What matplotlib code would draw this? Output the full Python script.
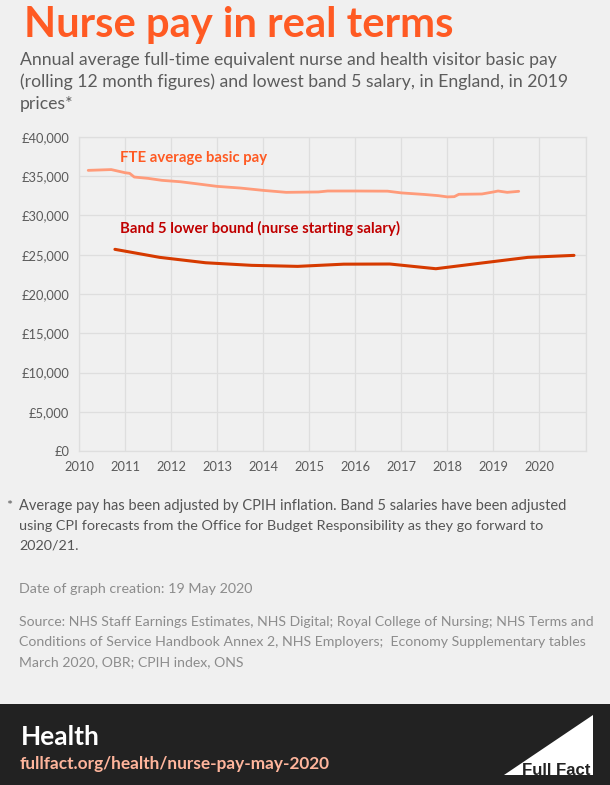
import matplotlib
matplotlib.use('Agg')
import matplotlib.pyplot as plt
from matplotlib.patches import Rectangle, Polygon

# --- Data ---
fte_years = [2010.2, 2010.7, 2011.0, 2011.1, 2011.2, 2011.5, 2011.8, 2012.2, 2012.6, 2013.0,
             2013.5, 2014.0, 2014.5, 2015.2, 2015.4, 2016.0, 2016.7, 2017.0, 2017.5, 2017.8,
             2018.0, 2018.15, 2018.25, 2018.75, 2019.0, 2019.1, 2019.3, 2019.55]
fte_pay = [35750, 35850, 35450, 35370, 34900, 34730, 34480, 34300, 34010, 33710,
           33500, 33200, 32950, 33000, 33120, 33120, 33100, 32880, 32680, 32530,
           32370, 32400, 32700, 32740, 33000, 33120, 32950, 33080]

band5_years = [2010.78, 2011.75, 2012.75, 2013.75, 2014.75, 2015.75, 2016.75, 2017.75, 2018.75, 2019.75, 2020.75]
band5_pay = [25690, 24670, 23980, 23650, 23520, 23800, 23820, 23220, 23950, 24670, 24920]

year_ticks = list(range(2010, 2021))
pay_ticks = list(range(0, 45000, 5000))

W, H = 610, 785
BG = '#f0f0f0'
plt.rcParams['font.family'] = ['Lato', 'DejaVu Sans']

fig = plt.figure(figsize=(W / 100, H / 100), dpi=100, facecolor=BG)

def px_text(x, y, s, **kw):
    # x, y in image pixels, y measured from the top
    fig.text(x / W, 1 - y / H, s, va='baseline', **kw)

# --- Chart ---
ax = fig.add_axes([79 / W, 1 - 451 / H, (585.5 - 79) / W, (451 - 137) / H], facecolor=BG)
ax.set_xlim(2010, 2021)
ax.set_ylim(0, 40000)
ax.set_xticks(year_ticks + [2021])
ax.set_xticklabels([str(y) for y in year_ticks] + [''])
ax.set_yticks(pay_ticks)
ax.set_yticklabels(['£{:,}'.format(v) for v in pay_ticks])
ax.grid(True, color='#dedede', linewidth=0.9)
ax.set_axisbelow(True)
for s in ax.spines.values():
    s.set_color('#dedede')
    s.set_linewidth(0.9)
ax.tick_params(length=0, labelsize=9.3, labelcolor='#5a5a5a', pad=7)

ax.plot(fte_years, fte_pay, color='#ff9b7a', linewidth=2.0, solid_capstyle='round')
ax.plot(band5_years, band5_pay, color='#d63a00', linewidth=2.2, solid_capstyle='round')

ax.text(2010.9, 37350, 'FTE average basic pay', color='#ff5a23', fontsize=10.7, fontweight='bold', va='center')
ax.text(2010.9, 28300, 'Band 5 lower bound (nurse starting salary)', color='#c00000',
        fontsize=10.75, fontweight='bold', va='center')

# --- Heading ---
px_text(24, 37, 'Nurse pay in real terms', color='#ff5a23', fontsize=30.1, fontweight='bold')
grey = '#5c5c5c'
px_text(20, 65, 'Annual average full-time equivalent nurse and health visitor basic pay', color=grey, fontsize=12.7)
px_text(20, 87, '(rolling 12 month figures) and lowest band 5 salary, in England, in 2019', color=grey, fontsize=12.7)
px_text(20, 109, 'prices*', color=grey, fontsize=12.7)

# --- Notes ---
note = '#555555'
px_text(6, 510, '*', color=note, fontsize=10.4)
px_text(19, 510, 'Average pay has been adjusted by CPIH inflation. Band 5 salaries have been adjusted', color=note, fontsize=10.5)
px_text(19, 530, 'using CPI forecasts from the Office for Budget Responsibility as they go forward to', color=note, fontsize=10.4)
px_text(19, 550, '2020/21.', color=note, fontsize=10.4)

faint = '#8c8c8c'
px_text(19, 593, 'Date of graph creation: 19 May 2020', color=faint, fontsize=10.3)
px_text(19, 626, 'Source: NHS Staff Earnings Estimates, NHS Digital; Royal College of Nursing; NHS Terms and', color=faint, fontsize=10.1)
px_text(19, 646, 'Conditions of Service Handbook Annex 2, NHS Employers;  Economy Supplementary tables', color=faint, fontsize=10.2)
px_text(19, 666, 'March 2020, OBR; CPIH index, ONS', color=faint, fontsize=10.1)

# --- Footer band ---
fig.add_artist(Rectangle((0, 0), 1, (H - 704) / H, transform=fig.transFigure, facecolor='#222222', edgecolor='none'))
px_text(21, 745, 'Health', color='white', fontsize=19, fontweight='bold')
px_text(20, 769, 'fullfact.org/health/nurse-pay-may-2020', color='#ffb59c', fontsize=12.4, fontweight='bold')

fig.add_artist(Polygon([(504 / W, 1 - 775 / H), (593 / W, 1 - 715 / H), (593 / W, 1 - 775 / H)],
                       transform=fig.transFigure, facecolor='white', edgecolor='none'))
px_text(522, 775, 'Full Fact', color='#222222', fontsize=12.1, fontweight='bold', family=['Liberation Sans'])

fig.savefig('out.png', dpi=100, facecolor=BG)
